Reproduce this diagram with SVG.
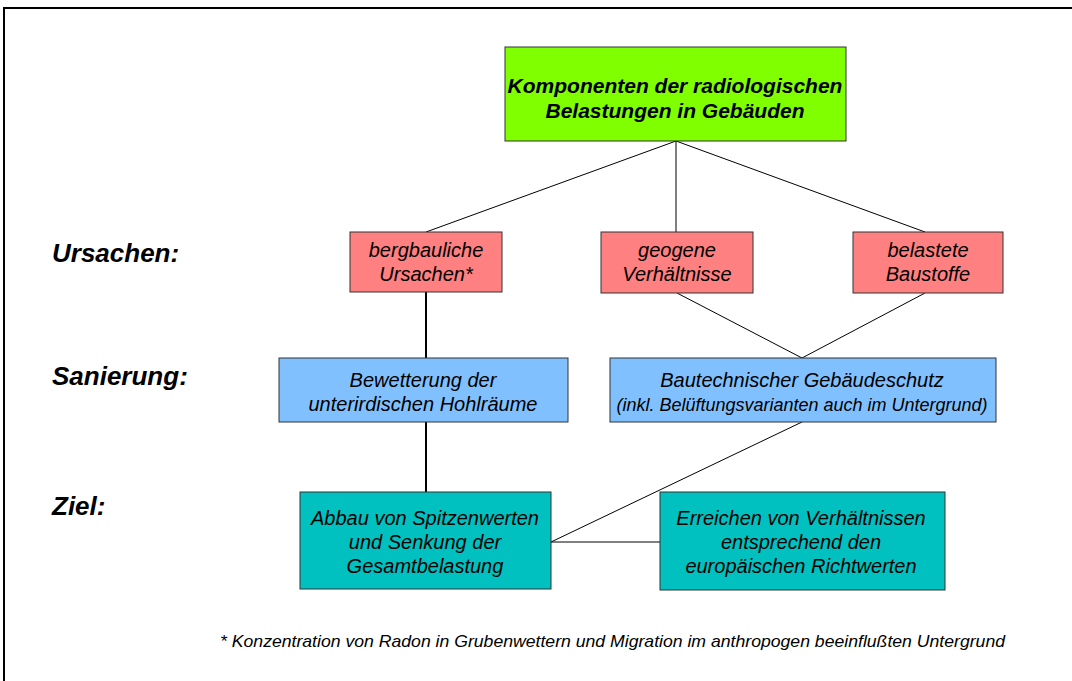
<svg xmlns="http://www.w3.org/2000/svg" width="1072" height="681" viewBox="0 0 1072 681">
<style>
.box{stroke:#333;stroke-width:1}
.t{font-family:"Liberation Sans",Arial,sans-serif;font-style:italic;font-size:20px;fill:#000;text-anchor:middle}
.b{font-weight:bold;font-size:21px}
.lab{font-family:"Liberation Sans",Arial,sans-serif;font-style:italic;font-weight:bold;font-size:26px;fill:#000}
.c{stroke:#000;stroke-width:1;fill:none}
.ct{stroke:#000;stroke-width:2;fill:none}
</style>
<rect width="1072" height="681" fill="#fff"/>
<path d="M4,681 V8 H1072" fill="none" stroke="#000" stroke-width="2"/>
<g id="connectors">
<line class="c" x1="676" y1="141" x2="426" y2="232"/>
<line class="c" x1="676" y1="141" x2="676" y2="232"/>
<line class="c" x1="676" y1="141" x2="925" y2="232"/>
<line class="ct" x1="426" y1="292" x2="426" y2="358"/>
<line class="ct" x1="426" y1="422" x2="426" y2="492"/>
<line class="c" x1="677" y1="293" x2="802" y2="358"/>
<line class="c" x1="925" y1="293" x2="802" y2="358"/>
<line class="c" x1="802" y1="422" x2="551" y2="542"/>
<line class="c" x1="551" y1="542" x2="660" y2="542"/>
</g>
<g id="labels">
<text class="lab" x="52" y="262">Ursachen:</text>
<text class="lab" x="52" y="385">Sanierung:</text>
<text class="lab" x="52" y="515">Ziel:</text>
</g>
<g id="n-top">
<rect class="box" x="505" y="47" width="341" height="94" fill="#80FF00"/>
<text class="t b" x="675" y="93">Komponenten der radiologischen</text>
<text class="t b" x="675" y="118">Belastungen in Gebäuden</text>
</g>
<g id="n-berg">
<rect class="box" x="350" y="232" width="152" height="60" fill="#FF8080"/>
<text class="t" x="426" y="257">bergbauliche</text>
<text class="t" x="426" y="281">Ursachen*</text>
</g>
<g id="n-geo">
<rect class="box" x="601" y="232" width="152" height="61" fill="#FF8080"/>
<text class="t" x="677" y="257">geogene</text>
<text class="t" x="677" y="281">Verhältnisse</text>
</g>
<g id="n-bau">
<rect class="box" x="853" y="232" width="150" height="61" fill="#FF8080"/>
<text class="t" x="928" y="257">belastete</text>
<text class="t" x="928" y="281">Baustoffe</text>
</g>
<g id="n-bew">
<rect class="box" x="279" y="358" width="289" height="64" fill="#80C0FF"/>
<text class="t" x="423" y="387">Bewetterung der</text>
<text class="t" x="423" y="411">unterirdischen Hohlräume</text>
</g>
<g id="n-schutz">
<rect class="box" x="610" y="358" width="386" height="64" fill="#80C0FF"/>
<text class="t" x="802" y="387">Bautechnischer Gebäudeschutz</text>
<text class="t" x="802" y="411" style="font-size:18px">(inkl. Belüftungsvarianten auch im Untergrund)</text>
</g>
<g id="n-abbau">
<rect class="box" x="300" y="492" width="251" height="97" fill="#00C0C0"/>
<text class="t" x="425" y="525">Abbau von Spitzenwerten</text>
<text class="t" x="425" y="549">und Senkung der</text>
<text class="t" x="425" y="573">Gesamtbelastung</text>
</g>
<g id="n-erreichen">
<rect class="box" x="660" y="492" width="285" height="98" fill="#00C0C0"/>
<text class="t" x="801" y="525">Erreichen von Verhältnissen</text>
<text class="t" x="801" y="549">entsprechend den</text>
<text class="t" x="801" y="573">europäischen Richtwerten</text>
</g>
<text x="220" y="647" font-family="'Liberation Sans',Arial,sans-serif" font-style="italic" font-size="17" textLength="785" lengthAdjust="spacingAndGlyphs">* Konzentration von Radon in Grubenwettern und Migration im anthropogen beeinflußten Untergrund</text>
</svg>
